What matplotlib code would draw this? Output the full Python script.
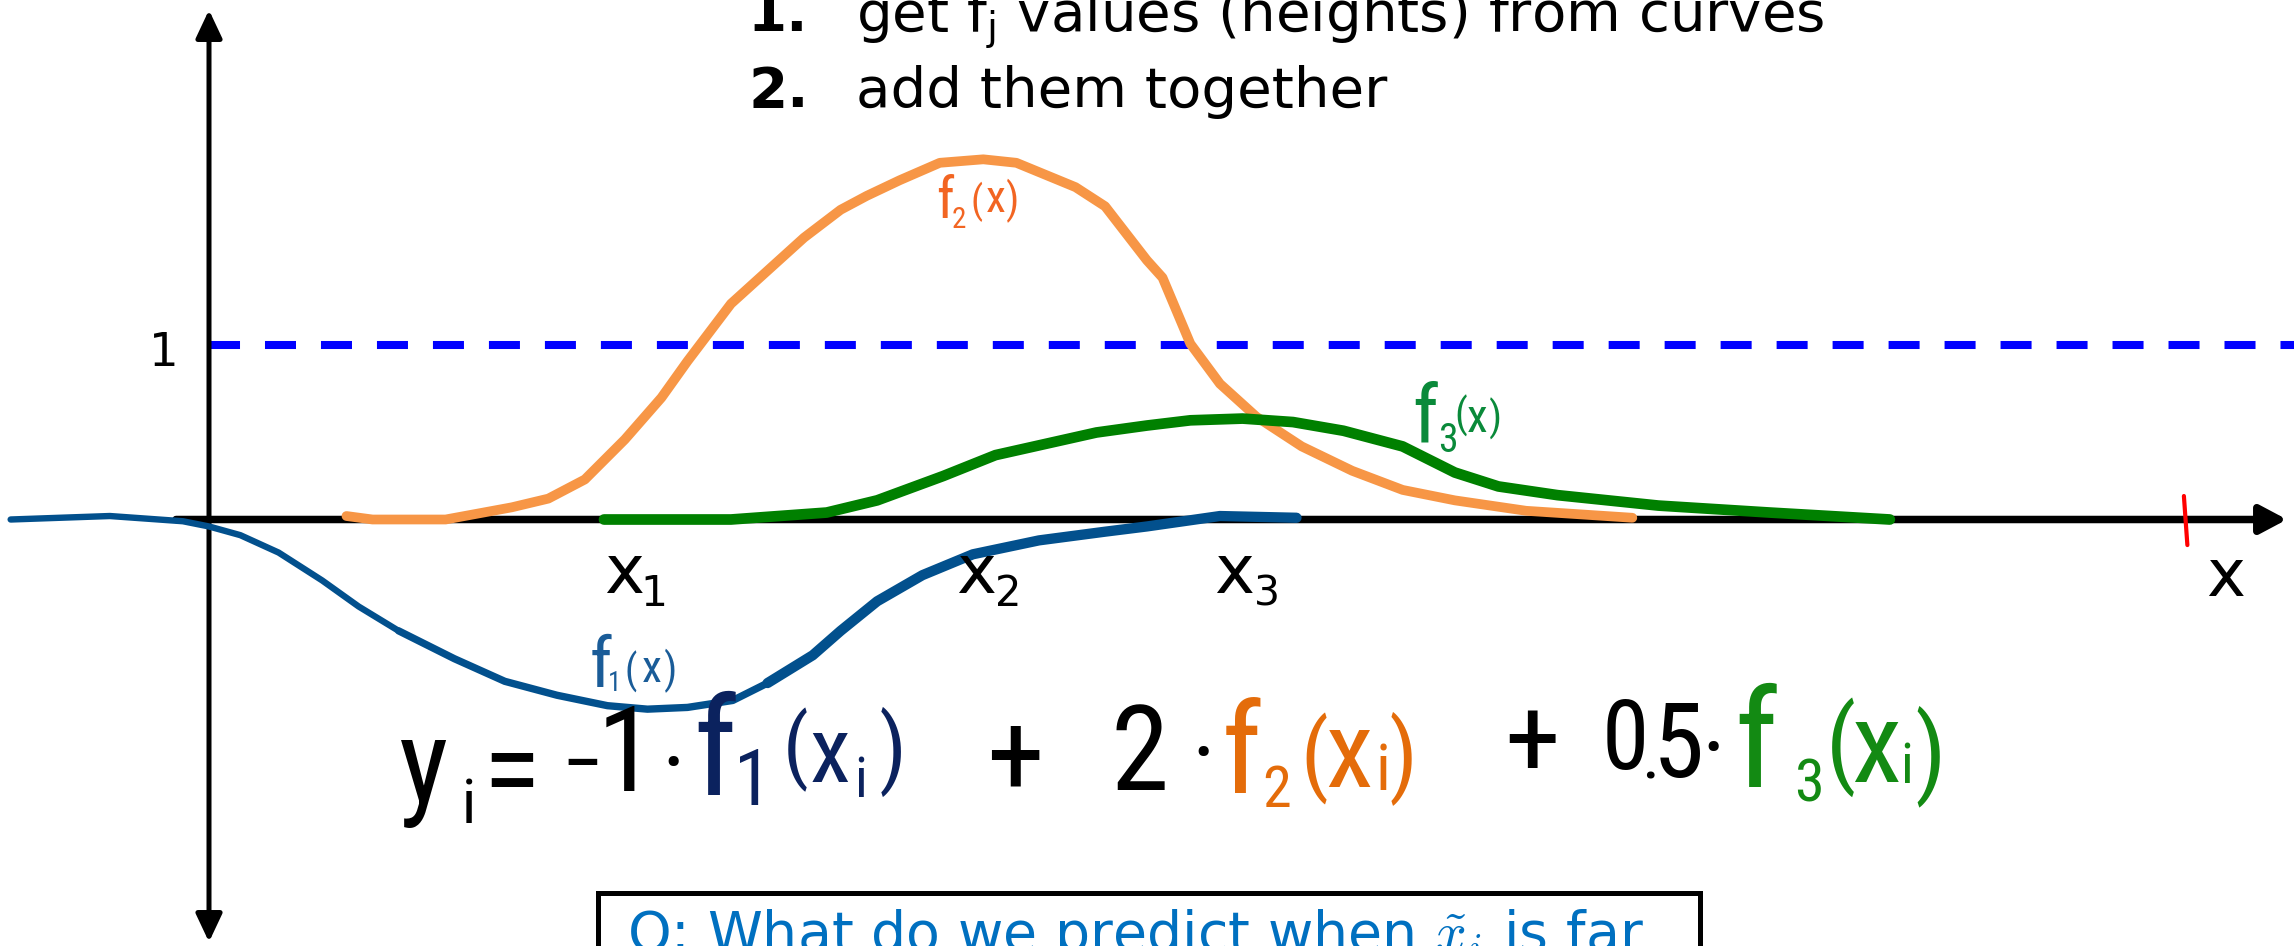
import matplotlib
matplotlib.use("Agg")
import matplotlib.pyplot as plt
from matplotlib import font_manager as fm
from matplotlib.textpath import TextPath
from matplotlib.patches import FancyArrowPatch, Rectangle

# ---------------------------------------------------------------- data
f1_x = [-1.14, -0.57, -0.15, 0.00, 0.18, 0.40, 0.65, 0.86, 1.09, 1.41, 1.70, 2.00, 2.29,
        2.52, 2.75, 3.01, 3.21, 3.47, 3.63, 3.84, 4.10, 4.39, 4.77, 5.15, 5.39, 5.81, 6.25]
f1_y = [0.00, 0.02, -0.01, -0.04, -0.09, -0.19, -0.35, -0.50, -0.64, -0.80, -0.93, -1.01, -1.07,
        -1.09, -1.08, -1.04, -0.94, -0.78, -0.64, -0.47, -0.32, -0.20, -0.12, -0.07, -0.04, 0.02, 0.01]

f2_x = [0.79, 0.94, 1.36, 1.74, 1.95, 2.16, 2.39, 2.60, 2.75, 3.00, 3.21, 3.42, 3.63, 3.78,
        3.97, 4.20, 4.45, 4.64, 4.98, 5.15, 5.39, 5.48, 5.64, 5.81, 6.02, 6.28, 6.57, 6.86,
        7.16, 7.57, 8.18]
f2_y = [0.02, 0.00, 0.00, 0.07, 0.12, 0.23, 0.46, 0.70, 0.91, 1.24, 1.43, 1.62, 1.78, 1.86,
        1.95, 2.05, 2.07, 2.05, 1.91, 1.80, 1.49, 1.39, 1.01, 0.78, 0.59, 0.42, 0.28, 0.17,
        0.11, 0.05, 0.01]

f3_x = [2.27, 3.00, 3.55, 3.84, 4.22, 4.52, 5.10, 5.39, 5.64, 5.94, 6.23, 6.52, 6.86, 7.16,
        7.41, 7.75, 8.33, 8.97, 9.66]
f3_y = [0.00, 0.00, 0.04, 0.11, 0.25, 0.37, 0.50, 0.54, 0.57, 0.58, 0.56, 0.51, 0.42, 0.27,
        0.19, 0.14, 0.08, 0.04, 0.00]

ref_level = 1.0
mark_x = [11.35, 11.37]
mark_y = [0.135, -0.147]

steps = ["1.", "2."]
step_texts = [r"get f$_\mathregular{j}$ values (heights) from curves", "add them together"]
question = r"Q: What do we predict when $\tilde{x}_i$ is far"

# ---------------------------------------------------------------- canvas
W, H = 2294, 946
X0, Y0, U = 209.0, 519.5, 174.0


def X(px):
    return (px - X0) / U


def Y(py):
    return (Y0 - py) / U


fig = plt.figure(figsize=(W / 100, H / 100), dpi=100)
ax = fig.add_axes([0, 0, 1, 1])
ax.set_xlim(X(0), X(W))
ax.set_ylim(Y(H), Y(0))
ax.axis("off")

avail = {f.name for f in fm.fontManager.ttflist}
hand_family = next((n for n in ["Liberation Sans Narrow", "Roboto Condensed",
                                "Liberation Sans", "Roboto", "DejaVu Sans"] if n in avail),
                   "DejaVu Sans")
hand_fp = fm.FontProperties(family=hand_family)
sans_fp = fm.FontProperties(family="DejaVu Sans")


def glyph(ch, left, top, bottom, color, fp):
    """Place a glyph so its ink spans [top, bottom] (pixels) starting at `left`."""
    ext = TextPath((0, 0), ch, size=1, prop=fp).get_extents()
    em = (bottom - top) / ext.height
    base = bottom + ext.y0 * em
    x = left - ext.x0 * em
    ax.text(X(x), Y(base), ch, fontproperties=fp, fontsize=em * 0.72,
            color=color, ha="left", va="baseline")


def glyph_c(ch, cx, cy, size_pt, color, fp):
    """Place a glyph with its ink centred on (cx, cy) pixels."""
    em = size_pt / 0.72
    ext = TextPath((0, 0), ch, size=1, prop=fp).get_extents()
    base = cy + (ext.y0 + ext.y1) / 2 * em
    x = cx - (ext.x0 + ext.x1) / 2 * em
    ax.text(X(x), Y(base), ch, fontproperties=fp, fontsize=size_pt,
            color=color, ha="left", va="baseline")


# ---------------------------------------------------------------- axes arrows
ax.add_patch(FancyArrowPatch((X(209), Y(942)), (X(209), Y(10)),
                             arrowstyle="<|-|>,head_length=17,head_width=8",
                             mutation_scale=1, lw=3.6, color="black",
                             shrinkA=0, shrinkB=0, zorder=2))
ax.add_patch(FancyArrowPatch((X(176), 0), (X(2287), 0),
                             arrowstyle="-|>,head_length=16,head_width=8.5",
                             mutation_scale=1, lw=5.4, color="black",
                             shrinkA=0, shrinkB=0, zorder=2))

# dashed reference line at y = 1
ax.plot([0, X(W) + 1], [ref_level, ref_level], color="#0000FF", lw=5.8,
        ls=(0, (3.85, 3.1)), dash_capstyle="butt", zorder=1)

# ---------------------------------------------------------------- curves
blue = "#02508D"
for a, b, w in [(0, 8, 4.6), (8, 16, 5.3), (16, len(f1_x) - 1, 7.4)]:
    ax.plot(f1_x[a:b + 1], f1_y[a:b + 1], color=blue, lw=w,
            solid_capstyle="round", solid_joinstyle="round", zorder=3)
ax.plot(f2_x, f2_y, color="#F79646", lw=7.0,
        solid_capstyle="round", solid_joinstyle="round", zorder=3)
ax.plot(f3_x, f3_y, color="#008000", lw=7.7,
        solid_capstyle="round", solid_joinstyle="round", zorder=3)

ax.plot(mark_x, mark_y, color="#FF0000", lw=3.0, solid_capstyle="round", zorder=4)

# ---------------------------------------------------------------- axis labels
glyph("1", 154, 332, 366, "black", sans_fp)
for lx, sx, sub in [(606, 645, "1"), (958, 998, "2"), (1216, 1257, "3")]:
    glyph("x", lx, 556, 593, "black", sans_fp)
    glyph(sub, sx, 575, 606, "black", sans_fp)
glyph("x", 2208, 560, 596, "black", sans_fp)

# ---------------------------------------------------------------- steps text
for i, (num, txt) in enumerate(zip(steps, step_texts)):
    base = 31 + 76 * i
    ax.text(X(748), Y(base), num, fontsize=40.5, fontweight="bold",
            family="DejaVu Sans", ha="left", va="baseline", color="black")
    ax.text(X(856), Y(base), txt, fontsize=40.5, family="DejaVu Sans",
            ha="left", va="baseline", color="black")

# ---------------------------------------------------------------- curve names
c2 = "#F26522"
glyph("f", 938, 175, 218, c2, hand_fp)
glyph("2", 953, 207, 228, c2, hand_fp)
glyph("(", 973, 182, 222, c2, hand_fp)
glyph("x", 987, 188, 212, c2, hand_fp)
glyph(")", 1007, 180, 223, c2, hand_fp)

c3 = "#0A8A3A"
glyph("f", 1415, 380, 442, c3, hand_fp)
glyph("3", 1440, 423, 452, c3, hand_fp)
glyph("(", 1457, 395, 437, c3, hand_fp)
glyph("x", 1468, 407, 432, c3, hand_fp)
glyph(")", 1490, 398, 440, c3, hand_fp)

c1 = "#1A5C98"
glyph("f", 592, 633, 687, c1, hand_fp)
glyph("1", 610, 672, 691, c1, hand_fp)
glyph("(", 627, 652, 693, c1, hand_fp)
glyph("x", 643, 658, 682, c1, hand_fp)
glyph(")", 665, 650, 693, c1, hand_fp)

# ---------------------------------------------------------------- equation
k = "black"
glyph("y", 401, 740, 828, k, hand_fp)
glyph("i", 466, 778, 823, k, hand_fp)
glyph("=", 491, 753, 787, k, hand_fp)
glyph_c("\u2212", 582, 761, 60, k, hand_fp)
glyph("1", 606, 706, 791, k, hand_fp)
glyph_c("\u00b7", 673, 760, 70, k, hand_fp)

nv = "#0B225E"
glyph("f", 698, 691, 795, nv, hand_fp)
glyph("1", 740, 750, 805, nv, hand_fp)
glyph("(", 788, 707, 792, nv, hand_fp)
glyph("x", 812, 733, 782, nv, hand_fp)
glyph("i", 858, 757, 797, nv, hand_fp)
glyph(")", 881, 707, 797, nv, hand_fp)

glyph("+", 991, 726, 786, k, hand_fp)
glyph("2", 1116, 705, 790, k, hand_fp)
glyph_c("\u00b7", 1203, 750, 70, k, hand_fp)

og = "#E46C0A"
glyph("f", 1226, 697, 793, og, hand_fp)
glyph("2", 1265, 765, 807, og, hand_fp)
glyph("(", 1306, 713, 805, og, hand_fp)
glyph("x", 1328, 730, 787, og, hand_fp)
glyph("i", 1380, 743, 790, og, hand_fp)
glyph(")", 1391, 712, 805, og, hand_fp)

glyph("+", 1509, 710, 768, k, hand_fp)
glyph("0", 1607, 700, 770, k, hand_fp)
glyph_c(".", 1650, 775, 50, k, hand_fp)
glyph("5", 1660, 703, 778, k, hand_fp)
glyph_c("\u00b7", 1713, 745, 70, k, hand_fp)

gr = "#138A13"
glyph("f", 1739, 683, 787, gr, hand_fp)
glyph("3", 1797, 758, 802, gr, hand_fp)
glyph("(", 1832, 697, 797, gr, hand_fp)
glyph("x", 1854, 722, 782, gr, hand_fp)
glyph("i", 1904, 743, 783, gr, hand_fp)
glyph(")", 1917, 705, 807, gr, hand_fp)

# ---------------------------------------------------------------- question box
ax.add_patch(Rectangle((X(598), Y(1000)), X(1700) - X(598), Y(893) - Y(1000),
                       fill=False, lw=3.6, edgecolor="black", zorder=2))
ax.text(X(627), Y(951), question, fontsize=40, family="DejaVu Sans",
        math_fontfamily="cm", color="#0070C0", ha="left", va="baseline")

fig.savefig("out.png", dpi=100)
